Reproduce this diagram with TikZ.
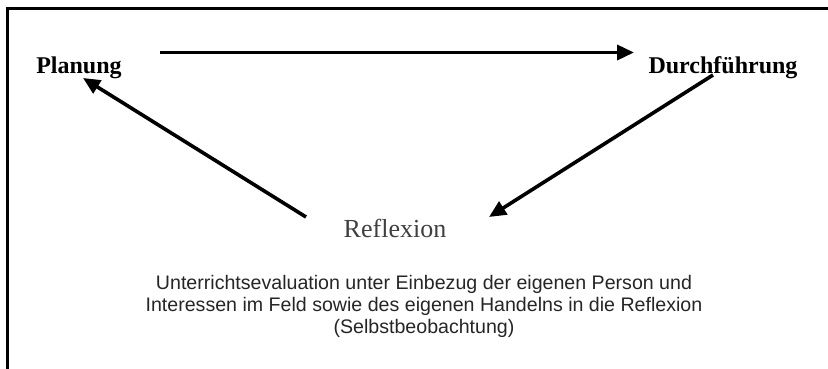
\documentclass[tikz,border=0pt]{standalone}
\usepackage{fontspec}
\setmainfont{Liberation Serif}
\newfontfamily\bodysans{Liberation Sans}
\usetikzlibrary{arrows.meta}
\definecolor{reflgray}{HTML}{404040}
\definecolor{bodygray}{HTML}{262626}
\tikzset{
  frameline/.style={line width=3pt, black},
  flowarrow/.style={line width=3.6pt, black, -{Triangle[length=17pt,width=15pt]}},
  stagelabel/.style={anchor=base, inner sep=0pt, font=\fontsize{24}{28}\selectfont\bfseries},
  refllabel/.style={anchor=base, inner sep=0pt, text=reflgray, font=\fontsize{26}{30}\selectfont},
  bodyline/.style={anchor=base, inner sep=0pt, text=bodygray, font=\bodysans\fontsize{19.6}{22}\selectfont}
}
\begin{document}
\begin{tikzpicture}[x=1pt,y=-1pt]
\useasboundingbox (0,0) rectangle (828,369);
\fill[white] (0,0) rectangle (828,369);
% frame
\coordinate (fbl) at (7.5,369);
\coordinate (ftl) at (7.5,8.5);
\coordinate (ftr) at (828,8.5);
\draw[frameline] (fbl) -- (ftl) -- (ftr);
% labels
\node[stagelabel] (plan) at (79,74) {Planung};
\node[stagelabel] (durch) at (723,74) {Durchführung};
\node[refllabel] (refl) at (395,237) {Reflexion};
\node[bodyline] (b1) at (424,289) {Unterrichtsevaluation unter Einbezug der eigenen Person und};
\node[bodyline] (b2) at (424,311) {Interessen im Feld sowie des eigenen Handelns in die Reflexion};
\node[bodyline] (b3) at (424,333) {(Selbstbeobachtung)};
% arrow ends
\coordinate (t1s) at (160,52.5);
\coordinate (t1e) at (634,52.5);
\coordinate (r1s) at (713,75);
\coordinate (r1e) at (489,217);
\coordinate (l1s) at (306,217);
\coordinate (l1e) at (83,78);
\draw[flowarrow] (t1s) -- (t1e);
\draw[flowarrow] (r1s) -- (r1e);
\draw[flowarrow] (l1s) -- (l1e);
\end{tikzpicture}
\end{document}
